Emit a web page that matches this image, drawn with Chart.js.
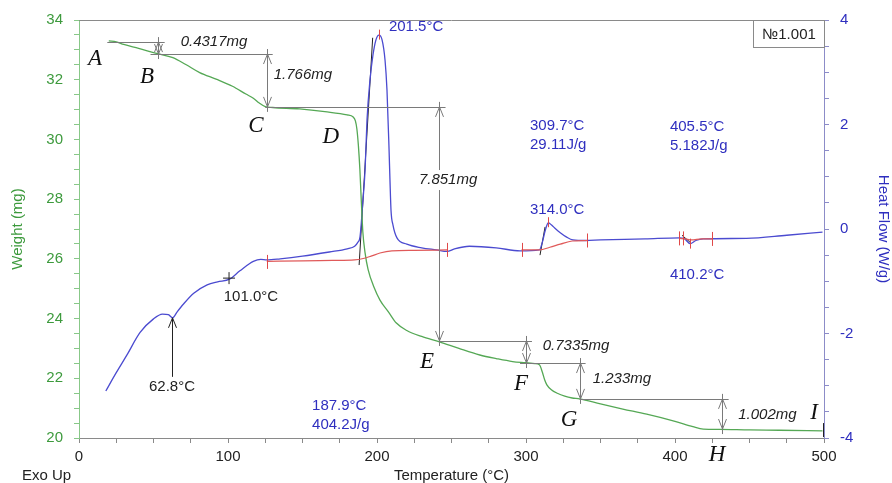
<!DOCTYPE html>
<html>
<head>
<meta charset="utf-8">
<script src="https://cdn.jsdelivr.net/npm/chart.js@4.4.1/dist/chart.umd.min.js"></script>
<style>
  html, body { margin: 0; padding: 0; background: #fff; }
</style>
</head>
<body>
<canvas id="tgaChart" width="892" height="483"></canvas>
<script>
// TGA / DSC - perte de masse et flux de chaleur en fonction de la température

// courbe de masse (mg)
const tempWeight = [20, 25, 30, 40, 52, 63, 72, 81, 92, 103, 112, 117, 121, 125, 130, 148, 165, 180, 184, 185.5,
  186.5, 187.5, 188.5, 189.5, 190.5, 192, 194, 198, 202, 208, 213, 220, 230, 242, 255, 269, 280, 291, 300,
  306, 309, 311, 312.5, 314, 317, 321, 326, 331, 336, 350, 365, 381, 400, 412, 419, 430, 450, 470, 499];
const weightMg = [33.30, 33.27, 33.18, 33.05, 32.88, 32.74, 32.50, 32.24, 32.02, 31.78, 31.52, 31.38, 31.22, 31.10, 31.07, 31.02, 30.93, 30.82, 30.75, 30.62,
  30.35, 29.8, 29.0, 27.9, 26.9, 26.2, 25.65, 25.05, 24.62, 24.20, 23.85, 23.60, 23.40, 23.22, 23.00, 22.78, 22.66, 22.56, 22.52,
  22.49, 22.45, 22.20, 21.95, 21.78, 21.62, 21.50, 21.40, 21.34, 21.31, 21.14, 20.97, 20.80, 20.56, 20.38, 20.30, 20.29, 20.27, 20.26, 20.24];

// courbe de flux de chaleur (W/g)
const tempHeat = [18, 25, 32, 41, 50, 56, 60, 62.8, 66, 70, 77, 86, 93, 101, 108, 117, 122, 126, 135, 150, 168, 180, 185, 187,
  188.6, 190.6, 192, 193.3, 195.3, 197.3, 199.3, 201.3, 203.4, 205.4, 206.7, 208.1, 208.7, 209.4, 210.7, 213.4,
  220, 230, 240, 247, 252, 262, 280, 296, 309, 311, 313, 315, 317, 320, 323, 327, 331.5, 340, 350, 380, 403, 406, 410.2, 414, 419, 448, 475, 499];
const heatFlow = [-3.10, -2.75, -2.42, -1.98, -1.72, -1.63, -1.64, -1.70, -1.58, -1.44, -1.23, -1.07, -1.01, -0.96, -0.80, -0.62, -0.58, -0.59, -0.57, -0.52, -0.44, -0.38, -0.33, -0.26,
  -0.15, 0.56, 1.13, 2.09, 2.85, 3.33, 3.62, 3.71, 3.62, 3.23, 2.66, 1.51, 0.94, 0.36, 0.08, -0.17,
  -0.29, -0.36, -0.40, -0.43, -0.38, -0.33, -0.36, -0.42, -0.40, -0.25, -0.02, 0.12, 0.08, 0.0, -0.07, -0.15, -0.21, -0.22, -0.21, -0.19, -0.17, -0.18, -0.28, -0.22, -0.19, -0.18, -0.12, -0.06];

// lignes de base (W/g)
const base1Temp = [126, 150, 170, 185, 190, 196, 202, 210, 225, 247];
const base1Val = [-0.62, -0.61, -0.60, -0.59, -0.57, -0.52, -0.46, -0.42, -0.41, -0.40];
const base2Temp = [297, 309, 316, 323, 331, 341];
const base2Val = [-0.40, -0.40, -0.35, -0.29, -0.23, -0.22];
const base3Temp = [403, 407, 411, 418, 425];
const base3Val = [-0.18, -0.19, -0.21, -0.19, -0.19];

// tangentes (W/g)
const tan1Temp = [188, 197.1];
const tan1Val = [-0.69, 3.66];
const tan2Temp = [309.4, 312.8];
const tan2Val = [-0.50, 0.04];
const tan3Temp = [404.7, 410];
const tan3Val = [-0.12, -0.25];

// marches de perte de masse (mg)
const stepLevel = [33.26, 32.86, 31.09, 23.25, 22.51, 21.31];
const stepFrom = [19, 48, 125, 242, 296, 336];
const stepTo = [57.5, 130, 246, 304, 340, 436];
const lossTemp = [53, 126.2, 241.6, 300, 336.2, 431.5];
const lossTop = [33.26, 32.86, 31.09, 23.25, 22.51, 21.31];
const lossBottom = [32.86, 31.09, 23.25, 22.51, 21.31, 20.30];
const lossText = ["0.4317mg", "1.766mg", "7.851mg", "0.7335mg", "1.233mg", "1.002mg"];

// repères rouges sur la ligne de base (W/g)
const markTemp = [126, 247, 297, 341, 403, 405.5, 425, 201.5, 315, 410.2];
const markVal = [-0.63, -0.40, -0.40, -0.22, -0.18, -0.18, -0.19, 3.72, 0.13, -0.28];

// lettres des étapes
const stepLetters = ["A", "B", "C", "D", "E", "F", "G", "H", "I"];

const pts = (xs, ys) => xs.map((x, i) => ({ x: x, y: ys[i] }));

const GREEN = "#3d9a3d";
const BLUE = "#2f2fbf";
const SANS = "'Liberation Sans', Arial, sans-serif";

// positions des textes (en unités des axes)
const lossLabelPos = [[90.6, 33.26], [150.3, 32.16], [247.7, 28.64], [333.6, 23.08], [364.4, 21.98], [462, 20.77]];
const letterPos = [[10.7, 32.69], [45.6, 32.09], [118.8, 30.45], [169, 30.08], [233.6, 22.55], [296.6, 21.81], [328.9, 20.6], [428.2, 19.43], [493.3, 20.84]];
const blueTexts = [
  { lines: ["201.5°C"], t: 208, v: 3.87 },
  { lines: ["309.7°C", "29.11J/g"], t: 302.7, v: 1.97 },
  { lines: ["405.5°C", "5.182J/g"], t: 396.6, v: 1.95 },
  { lines: ["314.0°C"], t: 302.7, v: 0.36 },
  { lines: ["410.2°C"], t: 396.6, v: -0.88 },
  { lines: ["187.9°C", "404.2J/g"], t: 156.4, v: -3.39 }
];

function arrowHead(ctx, x, y, dir) {
  // dir = -1 : pointe vers le haut, 1 : vers le bas
  ctx.beginPath();
  ctx.moveTo(x - 4, y - dir * 10);
  ctx.lineTo(x, y);
  ctx.lineTo(x + 4, y - dir * 10);
  ctx.stroke();
}

const tgaNotes = {
  id: "tgaNotes",
  afterDatasetsDraw(chart) {
    const { ctx, chartArea: a } = chart;
    const sx = chart.scales.x, sy = chart.scales.y, sh = chart.scales.y1;
    ctx.save();

    // cadre du haut
    ctx.strokeStyle = "#8a8a8a";
    ctx.lineWidth = 1;
    ctx.beginPath();
    ctx.moveTo(a.left, a.top + 0.5);
    ctx.lineTo(a.right, a.top + 0.5);
    ctx.stroke();

    // marches horizontales
    ctx.strokeStyle = "#7a7a7a";
    stepLevel.forEach((lv, i) => {
      const yy = Math.round(sy.getPixelForValue(lv)) + 0.5;
      ctx.beginPath();
      ctx.moveTo(sx.getPixelForValue(stepFrom[i]), yy);
      ctx.lineTo(sx.getPixelForValue(stepTo[i]), yy);
      ctx.stroke();
    });

    // flèches de perte de masse + textes
    ctx.font = "italic 15px " + SANS;
    ctx.textAlign = "center";
    ctx.textBaseline = "middle";
    lossTemp.forEach((t, i) => {
      const xx = Math.round(sx.getPixelForValue(t)) + 0.5;
      const y0 = sy.getPixelForValue(lossTop[i]);
      const y1 = sy.getPixelForValue(lossBottom[i]);
      ctx.strokeStyle = "#7a7a7a";
      ctx.beginPath();
      ctx.moveTo(xx, y0 - 5);
      ctx.lineTo(xx, y1 + 5);
      ctx.stroke();
      arrowHead(ctx, xx, y0, -1);
      arrowHead(ctx, xx, y1, 1);

      const lx = sx.getPixelForValue(lossLabelPos[i][0]);
      const ly = sy.getPixelForValue(lossLabelPos[i][1]);
      if (i === 2) {
        const w = ctx.measureText(lossText[i]).width;
        ctx.fillStyle = "#fff";
        ctx.fillRect(lx - w / 2 - 2, ly - 10, w + 4, 20);
      }
      ctx.fillStyle = "#222";
      ctx.fillText(lossText[i], lx, ly);
    });

    // lettres
    ctx.font = "italic 23px 'Liberation Serif', 'Times New Roman', serif";
    ctx.fillStyle = "#111";
    stepLetters.forEach((L, i) => {
      ctx.fillText(L, sx.getPixelForValue(letterPos[i][0]), sy.getPixelForValue(letterPos[i][1]));
    });

    // repères rouges
    ctx.strokeStyle = "#e04848";
    markTemp.forEach((t, i) => {
      const xx = Math.round(sx.getPixelForValue(t)) + 0.5;
      const yy = sh.getPixelForValue(markVal[i]);
      const h = i >= 7 ? 5 : 7;
      ctx.beginPath();
      ctx.moveTo(xx, yy - h);
      ctx.lineTo(xx, yy + h);
      ctx.stroke();
    });

    // repère à 101.0 °C
    ctx.strokeStyle = "#222";
    const cx = sx.getPixelForValue(100.7), cy = sh.getPixelForValue(-0.94);
    ctx.beginPath();
    ctx.moveTo(cx - 6, cy); ctx.lineTo(cx + 6, cy);
    ctx.moveTo(cx, cy - 6); ctx.lineTo(cx, cy + 6);
    ctx.stroke();

    // flèche à 62.8 °C
    const ax = Math.round(sx.getPixelForValue(62.4)) + 0.5;
    const ayTop = sh.getPixelForValue(-1.70);
    ctx.beginPath();
    ctx.moveTo(ax, ayTop);
    ctx.lineTo(ax, sh.getPixelForValue(-2.83));
    ctx.stroke();
    arrowHead(ctx, ax, ayTop, -1);

    // fin de courbe de masse
    const ex = Math.round(sx.getPixelForValue(499)) + 0.5;
    ctx.beginPath();
    ctx.moveTo(ex, sy.getPixelForValue(20.5));
    ctx.lineTo(ex, sy.getPixelForValue(20.03));
    ctx.stroke();

    // textes noirs
    ctx.font = "15px " + SANS;
    ctx.fillStyle = "#222";
    ctx.fillText("101.0°C", sx.getPixelForValue(115.4), sh.getPixelForValue(-1.30));
    ctx.fillText("62.8°C", sx.getPixelForValue(62.4), sh.getPixelForValue(-3.02));

    // textes bleus
    ctx.fillStyle = BLUE;
    ctx.textAlign = "left";
    blueTexts.forEach(b => {
      const bx = sx.getPixelForValue(b.t);
      const by = sh.getPixelForValue(b.v);
      b.lines.forEach((s, k) => ctx.fillText(s, bx, by + k * 19));
    });

    // encadré
    ctx.strokeStyle = "#8a8a8a";
    ctx.fillStyle = "#fff";
    ctx.fillRect(753.5, a.top + 0.5, 71, 27);
    ctx.strokeRect(753.5, a.top + 0.5, 71, 27);
    ctx.fillStyle = "#222";
    ctx.textAlign = "center";
    ctx.fillText("№1.001", 789, a.top + 14.5);

    // Exo Up
    ctx.textAlign = "left";
    ctx.fillText("Exo Up", 22, 476);
    ctx.restore();
  }
};

const ctx = document.getElementById("tgaChart").getContext("2d");

const lineSet = (data, axis, color, width) => ({
  data: data,
  yAxisID: axis,
  borderColor: color,
  borderWidth: width,
  pointRadius: 0,
  fill: false,
  cubicInterpolationMode: "monotone"
});

new Chart(ctx, {
  type: "line",
  data: {
    datasets: [
      lineSet(pts(base1Temp, base1Val), "y1", "#e05a5a", 1.2),
      lineSet(pts(base2Temp, base2Val), "y1", "#e05a5a", 1.2),
      lineSet(pts(base3Temp, base3Val), "y1", "#e05a5a", 1.2),
      lineSet(pts(tempWeight, weightMg), "y", "#55a855", 1.3),
      lineSet(pts(tempHeat, heatFlow), "y1", "#4b4bd0", 1.3),
      lineSet(pts(tan1Temp, tan1Val), "y1", "#222", 1),
      lineSet(pts(tan2Temp, tan2Val), "y1", "#222", 1),
      lineSet(pts(tan3Temp, tan3Val), "y1", "#222", 1)
    ]
  },
  options: {
    responsive: false,
    animation: false,
    layout: { padding: { top: 20 } },
    plugins: {
      legend: { display: false },
      tooltip: { enabled: false }
    },
    scales: {
      x: {
        type: "linear",
        min: 0,
        max: 500,
        ticks: {
          stepSize: 25,
          autoSkip: false,
          maxRotation: 0,
          padding: 5,
          color: "#222",
          font: { size: 15, family: SANS },
          callback: v => (v % 100 === 0 ? v : "")
        },
        grid: { drawOnChartArea: false, tickLength: 5, color: "#8a8a8a" },
        border: { color: "#8a8a8a" },
        title: { display: true, text: "Temperature (°C)", color: "#222", font: { size: 15, family: SANS }, padding: { top: 0, bottom: -2 } },
        afterFit: s => { s.height = 45; }
      },
      y: {
        position: "left",
        min: 20,
        max: 34,
        ticks: {
          stepSize: 0.5,
          autoSkip: false,
          padding: 11,
          color: GREEN,
          font: { size: 15, family: SANS },
          callback: v => (v % 2 === 0 ? v : "")
        },
        grid: { drawOnChartArea: false, tickLength: 5, color: "#88c888" },
        border: { color: "#88c888" },
        title: { display: true, text: "Weight (mg)", color: GREEN, font: { size: 15, family: SANS }, padding: { top: 9, bottom: 0 } },
        afterFit: s => { s.width = 79; }
      },
      y1: {
        position: "right",
        min: -4,
        max: 4,
        ticks: {
          stepSize: 0.5,
          autoSkip: false,
          padding: 11,
          color: BLUE,
          font: { size: 15, family: SANS },
          callback: v => (v % 2 === 0 ? v : "")
        },
        grid: { drawOnChartArea: false, tickLength: 5, color: "#8c8cc8" },
        border: { color: "#8c8cc8" },
        title: { display: true, text: "Heat Flow (W/g)", color: BLUE, font: { size: 15, family: SANS }, padding: { top: 0, bottom: 0 } },
        afterFit: s => { s.width = 68; }
      }
    }
  },
  plugins: [tgaNotes]
});
</script>
</body>
</html>
